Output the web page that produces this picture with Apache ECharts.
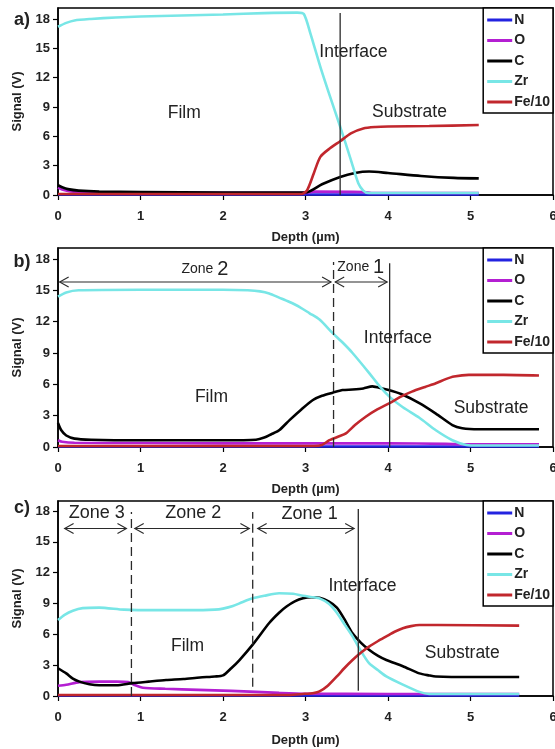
<!DOCTYPE html>
<html><head><meta charset="utf-8">
<script src="https://cdn.jsdelivr.net/npm/echarts@6/dist/echarts.min.js"></script>
<style>html,body{margin:0;padding:0;background:#fff}#c{width:555px;height:749px}</style>
</head><body><div id="c"></div>
<script>
// ---------- categories / ticks ----------
const elementNames = ['N', 'O', 'C', 'Zr', 'Fe/10'];
const xTicks = [0, 1, 2, 3, 4, 5, 6];
const yTicks = [0, 3, 6, 9, 12, 15, 18];

// ---------- panel a) values [depth µm, signal V] ----------
const nA = [[0, 0.05], [2.5, 0.05], [5.1, 0.05]];
const oA = [[0, 0.75], [0.05, 0.55], [0.15, 0.35], [0.4, 0.25], [3.0, 0.22], [3.1, 0.35], [3.7, 0.3], [3.8, 0.2], [5.1, 0.2]];
const cA = [[0, 1.0], [0.05, 0.8], [0.12, 0.6], [0.25, 0.45], [0.5, 0.35], [1.0, 0.3], [2.0, 0.25], [3.0, 0.25], [3.2, 1.1], [3.42, 1.85], [3.6, 2.25], [3.77, 2.4], [4.0, 2.25], [4.4, 1.95], [4.8, 1.75], [5.1, 1.7]];
const zrA = [[0, 17.2], [0.1, 17.6], [0.2, 17.85], [0.4, 18.0], [0.7, 18.15], [1.0, 18.25], [1.5, 18.35], [2.0, 18.45], [2.5, 18.6], [2.9, 18.65], [2.98, 18.5], [3.06, 16.5], [3.18, 13.1], [3.30, 10.0], [3.42, 7.0], [3.55, 3.6], [3.64, 1.2], [3.70, 0.45], [3.76, 0.2], [4.5, 0.2], [5.1, 0.2]];
const feA = [[0, 0.1], [2.95, 0.1], [3.02, 0.5], [3.1, 2.2], [3.18, 3.9], [3.3, 4.8], [3.42, 5.5], [3.55, 6.3], [3.7, 6.8], [3.85, 6.95], [4.0, 7.0], [4.5, 7.05], [5.1, 7.15]];

// ---------- panel b) ----------
const nB = [[0, 0.05], [3, 0.05], [5.83, 0.05]];
const oB = [[0, 0.65], [0.05, 0.5], [0.2, 0.4], [1, 0.38], [2, 0.35], [3, 0.35], [4, 0.35], [4.7, 0.3], [5, 0.25], [5.83, 0.25]];
const cB = [[0, 2.3], [0.04, 1.6], [0.1, 1.1], [0.2, 0.8], [0.4, 0.7], [1.0, 0.65], [2.0, 0.65], [2.4, 0.7], [2.5, 0.9], [2.58, 1.2], [2.68, 1.6], [2.81, 2.6], [2.95, 3.6], [3.09, 4.5], [3.2, 4.9], [3.33, 5.2], [3.45, 5.45], [3.57, 5.5], [3.7, 5.6], [3.81, 5.8], [3.93, 5.6], [4.05, 5.35], [4.18, 5.0], [4.38, 4.2], [4.58, 3.2], [4.78, 2.1], [4.9, 1.8], [5.1, 1.7], [5.83, 1.7]];
const zrB = [[0, 14.4], [0.1, 14.8], [0.25, 15.0], [1.0, 15.05], [2.0, 15.05], [2.3, 15.0], [2.45, 14.9], [2.56, 14.7], [2.68, 14.3], [2.8, 13.9], [2.93, 13.4], [3.05, 12.8], [3.17, 12.2], [3.33, 10.9], [3.45, 10.0], [3.57, 9.0], [3.77, 7.1], [3.90, 5.8], [4.02, 4.8], [4.18, 3.8], [4.38, 2.8], [4.58, 1.6], [4.78, 0.65], [4.95, 0.2], [5.1, 0.15], [5.83, 0.15]];
const feB = [[0, 0.1], [3.1, 0.1], [3.2, 0.2], [3.29, 0.65], [3.4, 1.0], [3.49, 1.3], [3.6, 2.1], [3.73, 2.9], [3.87, 3.6], [4.02, 4.2], [4.15, 4.8], [4.29, 5.3], [4.45, 5.75], [4.58, 6.1], [4.7, 6.5], [4.8, 6.75], [4.98, 6.9], [5.4, 6.9], [5.83, 6.85]];

// ---------- panel c) ----------
const nC = [[0, 0.05], [3, 0.05], [5.59, 0.05]];
const oC = [[0, 1.0], [0.1, 1.1], [0.26, 1.35], [0.5, 1.4], [0.71, 1.4], [0.85, 1.35], [0.92, 1.1], [1.03, 0.8], [1.3, 0.7], [1.7, 0.6], [2.1, 0.5], [2.4, 0.4], [2.68, 0.3], [3.0, 0.22], [4.0, 0.2], [5.59, 0.2]];
const cC = [[0, 2.7], [0.1, 2.2], [0.18, 1.7], [0.26, 1.4], [0.38, 1.15], [0.5, 1.05], [0.71, 1.05], [0.9, 1.25], [1.1, 1.4], [1.31, 1.55], [1.52, 1.65], [1.72, 1.8], [1.9, 1.9], [2.0, 2.0], [2.1, 2.7], [2.2, 3.5], [2.36, 5.0], [2.56, 7.1], [2.68, 8.1], [2.77, 8.7], [2.87, 9.2], [2.97, 9.5], [3.07, 9.6], [3.17, 9.55], [3.28, 9.2], [3.38, 8.6], [3.47, 7.5], [3.57, 6.1], [3.67, 5.2], [3.77, 4.5], [3.88, 3.9], [3.98, 3.5], [4.18, 2.9], [4.38, 2.2], [4.5, 2.0], [4.58, 1.9], [5.0, 1.85], [5.59, 1.85]];
const zrC = [[0, 7.4], [0.08, 7.9], [0.18, 8.3], [0.3, 8.55], [0.5, 8.6], [0.8, 8.4], [1.2, 8.35], [1.6, 8.35], [1.9, 8.4], [2.0, 8.5], [2.12, 8.75], [2.24, 9.15], [2.36, 9.5], [2.5, 9.75], [2.68, 10.0], [2.85, 9.95], [2.97, 9.75], [3.1, 9.6], [3.17, 9.5], [3.28, 9.0], [3.38, 8.1], [3.47, 7.0], [3.57, 5.8], [3.67, 4.4], [3.77, 3.2], [3.88, 2.5], [3.98, 1.9], [4.18, 1.1], [4.38, 0.4], [4.5, 0.2], [5.0, 0.2], [5.59, 0.2]];
const feC = [[0, 0.1], [2.8, 0.1], [2.97, 0.2], [3.1, 0.3], [3.17, 0.45], [3.27, 1.0], [3.38, 1.9], [3.47, 2.7], [3.57, 3.5], [3.67, 4.2], [3.77, 4.8], [3.88, 5.35], [3.98, 5.8], [4.08, 6.25], [4.18, 6.6], [4.28, 6.8], [4.38, 6.9], [4.6, 6.9], [5.59, 6.85]];

// ---------- annotations (data coordinates) ----------
const textsA = [['Film', 1.53, 8.4], ['Interface', 3.58, 14.6], ['Substrate', 4.26, 8.5]];
const textsB = [['Film', 1.86, 4.8], ['Interface', 4.12, 10.4], ['Substrate', 5.25, 3.7]];
const textsC = [['Film', 1.57, 4.8], ['Interface', 3.69, 10.7], ['Substrate', 4.9, 4.2]];
const zonesB = [['2', 1.78, 17.0], ['1', 3.67, 17.2]];
const zonesC = [['Zone 3', 0.47, 17.8], ['Zone 2', 1.64, 17.8], ['Zone 1', 3.05, 17.7]];
const vlinesA = [[3.42, 0, 18.6, 'solid']];
const vlinesB = [[3.34, 0, 17.7, 'dash'], [4.02, 0, 17.6, 'solid']];
const vlinesC = [[0.89, 0, 17.9, 'dash'], [2.36, 0.9, 17.9, 'dash'], [3.64, 0.5, 18.2, 'solid']];
const arrowsB = [[0.02, 3.31, 15.8], [3.36, 3.99, 15.8]];
const arrowsC = [[0.08, 0.83, 16.3], [0.93, 2.32, 16.3], [2.42, 3.59, 16.3]];

const FONT = '"Liberation Sans", Arial, Helvetica, sans-serif';
const colors = { 'N': '#2323e0', 'O': '#b41fd2', 'C': '#000000', 'Zr': '#78e6e6', 'Fe/10': '#c1272d' };

const panels = [
  { label: 'a)', top: 8, height: 187, ymax: 19.12, data: [nA, oA, cA, zrA, feA], texts: textsA, zones: [], zoneRich: false, vlines: vlinesA, arrows: [], labelY: 20, nameGap: 36 },
  { label: 'b)', top: 248, height: 199, ymax: 19.05, data: [nB, oB, cB, zrB, feB], texts: textsB, zones: zonesB, zoneRich: true, vlines: vlinesB, arrows: arrowsB, labelY: 262, nameGap: 36 },
  { label: 'c)', top: 501, height: 195, ymax: 18.97, data: [nC, oC, cC, zrC, feC], texts: textsC, zones: zonesC, zoneRich: false, vlines: vlinesC, arrows: arrowsC, labelY: 508, nameGap: 38 }
];

const grid = [], xAxis = [], yAxis = [], series = [], legend = [];
panels.forEach((p, i) => {
  grid.push({ left: 58, right: 2, top: p.top, height: p.height, show: true, borderColor: '#000', borderWidth: 1.5, backgroundColor: 'transparent', containLabel: false, outerBoundsMode: 'none' });
  xAxis.push({
    type: 'value', gridIndex: i, min: 0, max: 6, interval: 1,
    name: 'Depth (µm)', nameLocation: 'middle', nameGap: p.nameGap,
    nameTextStyle: { fontFamily: FONT, fontWeight: 'bold', fontSize: 13, color: '#222' },
    axisLine: { show: true, onZero: false, lineStyle: { color: '#000', width: 1.5 } },
    axisTick: { show: true, inside: false, length: 5, lineStyle: { color: '#000', width: 1.2 } },
    axisLabel: { margin: 15, fontFamily: FONT, fontWeight: 'bold', fontSize: 13, color: '#222', customValues: xTicks, hideOverlap: false },
    splitLine: { show: false }
  });
  yAxis.push({
    type: 'value', gridIndex: i, min: 0, max: p.ymax, interval: 3,
    name: 'Signal (V)', nameLocation: 'middle', nameGap: 34,
    nameTextStyle: { fontFamily: FONT, fontWeight: 'bold', fontSize: 13, color: '#222' },
    axisLine: { show: true, onZero: false, lineStyle: { color: '#000', width: 1.5 } },
    axisTick: { show: true, inside: false, length: 5, lineStyle: { color: '#000', width: 1.2 }, customValues: yTicks },
    axisLabel: { margin: 8, fontFamily: FONT, fontWeight: 'bold', fontSize: 13, color: '#222', customValues: yTicks },
    splitLine: { show: false }
  });
  elementNames.forEach((n, k) => {
    series.push({
      type: 'line', name: n, xAxisIndex: i, yAxisIndex: i, data: p.data[k],
      showSymbol: false, symbol: 'none', smooth: 0.25, animation: false,
      lineStyle: { color: colors[n], width: 2.6 }, itemStyle: { color: colors[n] },
      z: 2 + k
    });
  });
  legend.push({
    data: elementNames, orient: 'vertical', right: 2, top: p.top,
    icon: 'rect', itemWidth: 25, itemHeight: 3, itemGap: 6.5,
    padding: [5, 3, 4, 4], borderColor: '#000', borderWidth: 1.5, backgroundColor: '#fff',
    textStyle: { fontFamily: FONT, fontWeight: 'bold', fontSize: 14, lineHeight: 14, color: '#222', padding: [0, 0, 0, -3] },
    selectedMode: false
  });
});

const chart = echarts.init(document.getElementById('c'), null, { renderer: 'canvas' });
chart.setOption({ animation: false, backgroundColor: '#fff', grid, xAxis, yAxis, series, legend });

// ---------- annotations drawn in data coordinates ----------
const g = [];
const STROKE = '#2a2a2a';
panels.forEach((p, i) => {
  const px = (x, y) => chart.convertToPixel({ gridIndex: i }, [x, y]);
  g.push({ type: 'text', z: 100, style: { text: p.label, x: 22, y: p.labelY, fill: '#222', fontFamily: FONT, fontWeight: 'bold', fontSize: 18, align: 'center', verticalAlign: 'middle' } });
  p.texts.forEach(t => {
    const [x, y] = px(t[1], t[2]);
    g.push({ type: 'text', z: 100, style: { text: t[0], x, y, fill: '#222', fontFamily: FONT, fontSize: 17.5, align: 'center', verticalAlign: 'middle' } });
  });
  p.zones.forEach(t => {
    const [x, y] = px(t[1], t[2]);
    if (p.zoneRich) {
      g.push({ type: 'text', z: 100, style: { text: '{a|Zone }{b|' + t[0] + '}', x, y, align: 'center', verticalAlign: 'middle',
        rich: { a: { fontFamily: FONT, fontSize: 14, fill: '#222', color: '#222' }, b: { fontFamily: FONT, fontSize: 20, fill: '#222', color: '#222' } } } });
    } else {
      g.push({ type: 'text', z: 100, style: { text: t[0], x, y, fill: '#222', fontFamily: FONT, fontSize: 18, align: 'center', verticalAlign: 'middle' } });
    }
  });
  p.vlines.forEach(v => {
    const a = px(v[0], v[1]), b = px(v[0], v[2]);
    g.push({ type: 'line', z: 90, shape: { x1: a[0], y1: a[1], x2: b[0], y2: b[1] },
      style: { stroke: STROKE, lineWidth: 1.3, lineDash: v[3] === 'dash' ? [9, 5] : null } });
  });
  p.arrows.forEach(ar => {
    const a = px(ar[0], ar[2]), b = px(ar[1], ar[2]);
    g.push({ type: 'line', z: 90, shape: { x1: a[0], y1: a[1], x2: b[0], y2: b[1] }, style: { stroke: STROKE, lineWidth: 1.1 } });
    g.push({ type: 'polyline', z: 90, shape: { points: [[a[0] + 9, a[1] - 5], [a[0], a[1]], [a[0] + 9, a[1] + 5]] }, style: { stroke: STROKE, lineWidth: 1.1, fill: null } });
    g.push({ type: 'polyline', z: 90, shape: { points: [[b[0] - 9, b[1] - 5], [b[0], b[1]], [b[0] - 9, b[1] + 5]] }, style: { stroke: STROKE, lineWidth: 1.1, fill: null } });
  });
});
chart.setOption({ graphic: g });
</script>
</body></html>
